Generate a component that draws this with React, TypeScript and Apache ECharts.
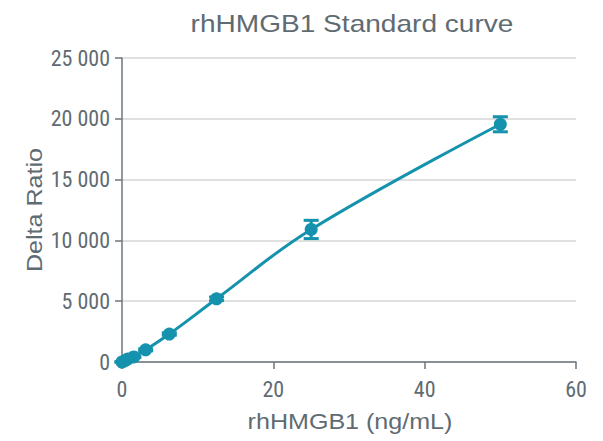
import React, { useEffect, useRef } from "react";
import * as echarts from "echarts";

const concentrations = [0, 0.39, 0.78, 1.56, 3.125, 6.25, 12.5, 25, 50];
const deltaRatio = [0, 110, 250, 420, 1000, 2300, 5200, 10900, 19550];
const errors = [30, 40, 50, 60, 80, 100, 150, 750, 620];
const yTicks = [0, 5000, 10000, 15000, 20000, 25000];
const xTicks = [0, 20, 40, 60];

const TITLE = "rhHMGB1 Standard curve";
const X_NAME = "rhHMGB1 (ng/mL)";
const Y_NAME = "Delta Ratio";

const COLOR = "#1592ad";
const TEXT = "#5f6b72";
const AXIS = "#6b767c";
const NARROW = "'Liberation Sans Narrow', 'Roboto Condensed', Roboto, sans-serif";
const SANS = "'Liberation Sans', Arial, sans-serif";

export default function App() {
  const ref = useRef<HTMLDivElement>(null);
  useEffect(() => {
    const chart = echarts.init(ref.current!, null, { renderer: "svg" });
    const pts = concentrations.map((x, i) => [x, deltaRatio[i]]);
    const errData = concentrations.map((x, i) => [x, deltaRatio[i] - errors[i], deltaRatio[i] + errors[i]]);
    chart.setOption({
      animation: false,
      graphic: [
        {
          type: "text",
          x: 352,
          y: 24,
          scaleX: 1.17,
          style: {
            text: TITLE,
            fill: TEXT,
            font: `24px ${SANS}`,
            align: "center",
            verticalAlign: "middle",
          },
        },
        {
          type: "text",
          x: 350,
          y: 422,
          scaleX: 1.14,
          style: {
            text: X_NAME,
            fill: TEXT,
            font: `22px ${SANS}`,
            align: "center",
            verticalAlign: "middle",
          },
        },
        {
          type: "text",
          x: 35,
          y: 210,
          rotation: Math.PI / 2,
          scaleX: 1.14,
          style: {
            text: Y_NAME,
            fill: TEXT,
            font: `22px ${SANS}`,
            align: "center",
            verticalAlign: "middle",
          },
        },
      ],
      grid: { left: 122, right: 27, top: 58, bottom: 79 },
      xAxis: {
        type: "value",
        min: xTicks[0],
        max: xTicks[xTicks.length - 1],
        interval: 20,
        axisLine: { show: true, lineStyle: { color: AXIS, width: 1.5 } },
        axisTick: { show: true, length: 7, lineStyle: { color: AXIS, width: 1.5 } },
        axisLabel: { color: TEXT, fontSize: 22, fontFamily: NARROW, margin: 16 },
        splitLine: { show: false },
      },
      yAxis: {
        type: "value",
        min: yTicks[0],
        max: yTicks[yTicks.length - 1],
        interval: 5000,
        axisLine: { show: true, lineStyle: { color: AXIS, width: 1.5 } },
        axisTick: { show: true, length: 7, lineStyle: { color: AXIS, width: 1.5 } },
        axisLabel: {
          color: TEXT,
          fontSize: 22,
          fontFamily: NARROW,
          margin: 12,
          formatter: (v: number) => String(v).replace(/\B(?=(\d{3})+(?!\d))/g, " "),
        },
        splitLine: { show: true, lineStyle: { color: "#d6d6d6", width: 1.5 } },
      },
      series: [
        {
          type: "line",
          data: pts,
          smooth: 0.4,
          symbol: "circle",
          symbolSize: 13,
          itemStyle: { color: COLOR },
          lineStyle: { color: COLOR, width: 3 },
          z: 3,
        },
        {
          type: "custom",
          data: errData,
          z: 4,
          renderItem: (params: any, api: any) => {
            const x = api.value(0);
            const lo = api.coord([x, api.value(1)]);
            const hi = api.coord([x, api.value(2)]);
            const w = 7.5;
            const style = { stroke: COLOR, lineWidth: 3 };
            return {
              type: "group",
              children: [
                { type: "line", shape: { x1: lo[0], y1: lo[1], x2: hi[0], y2: hi[1] }, style },
                { type: "line", shape: { x1: lo[0] - w, y1: lo[1], x2: lo[0] + w, y2: lo[1] }, style },
                { type: "line", shape: { x1: hi[0] - w, y1: hi[1], x2: hi[0] + w, y2: hi[1] }, style },
              ],
            };
          },
        },
      ],
    });
    return () => chart.dispose();
  }, []);
  return <div ref={ref} style={{ width: 603, height: 441, position: "absolute", left: 0, top: 0 }} />;
}
